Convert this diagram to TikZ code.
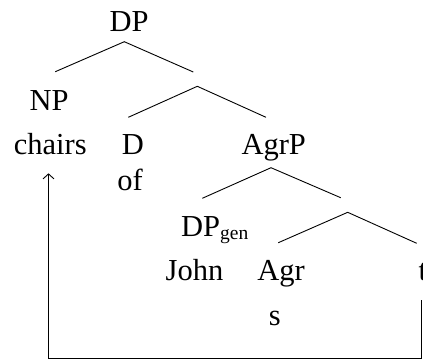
\documentclass[tikz,border=0pt]{standalone}
\usepackage{fontspec}
\setmainfont{Liberation Serif}
\usetikzlibrary{arrows.meta}
\tikzset{
  lbl/.style={anchor=base, inner sep=0pt, font=\fontsize{30.5}{36}\selectfont},
  branch/.style={line width=0.9pt},
  movearrow/.style={line width=0.9pt, -{Straight Barb[length=5pt,width=11pt,line width=0.9pt]}}
}
\begin{document}
\begin{tikzpicture}[x=1pt,y=-1pt]
\useasboundingbox (0,0) rectangle (423,360);
% labels
\node[lbl] (dp) at (129,31) {DP};
\node[lbl] (np) at (49,110) {NP};
\node[lbl] (chairs) at (50.3,154.3) {chairs};
\node[lbl] (d) at (133,154.3) {D};
\node[lbl] (agrp) at (273.7,154.3) {AgrP};
\node[lbl] (of) at (130,190.5) {of};
\node[lbl, anchor=base west] (dpgen) at (181,236.7) {DP{\fontsize{19.5}{20}\selectfont\raisebox{-3pt}{gen}}};
\node[lbl] (john) at (194.5,280.7) {John};
\node[lbl] (agr) at (281,280.7) {Agr};
\node[lbl, anchor=base west] (t) at (418.3,280.7) {t};
\node[lbl] (s) at (274.7,325.7) {s};
% branch points
\coordinate (a1) at (124.3,41.7); \coordinate (l1) at (55.3,71.7); \coordinate (r1) at (193.3,72);
\coordinate (a2) at (197.3,86.3); \coordinate (l2) at (128.3,117.3); \coordinate (r2) at (266,117.3);
\coordinate (a3) at (271,167.7); \coordinate (l3) at (202.3,198.3); \coordinate (r3) at (340.7,197.7);
\coordinate (a4) at (347.7,212.3); \coordinate (l4) at (278.3,242.7); \coordinate (r4) at (416.7,243.3);
\draw[branch] (l1) -- (a1) -- (r1);
\draw[branch] (l2) -- (a2) -- (r2);
\draw[branch] (l3) -- (a3) -- (r3);
\draw[branch] (l4) -- (a4) -- (r4);
% movement arrow
\coordinate (tfoot) at (421,300);
\coordinate (br) at (421,358.3);
\coordinate (bl) at (48.5,358.3);
\coordinate (tip) at (48.5,173.3);
\draw[movearrow] (tfoot) -- (br) -- (bl) -- (tip);
\end{tikzpicture}
\end{document}
